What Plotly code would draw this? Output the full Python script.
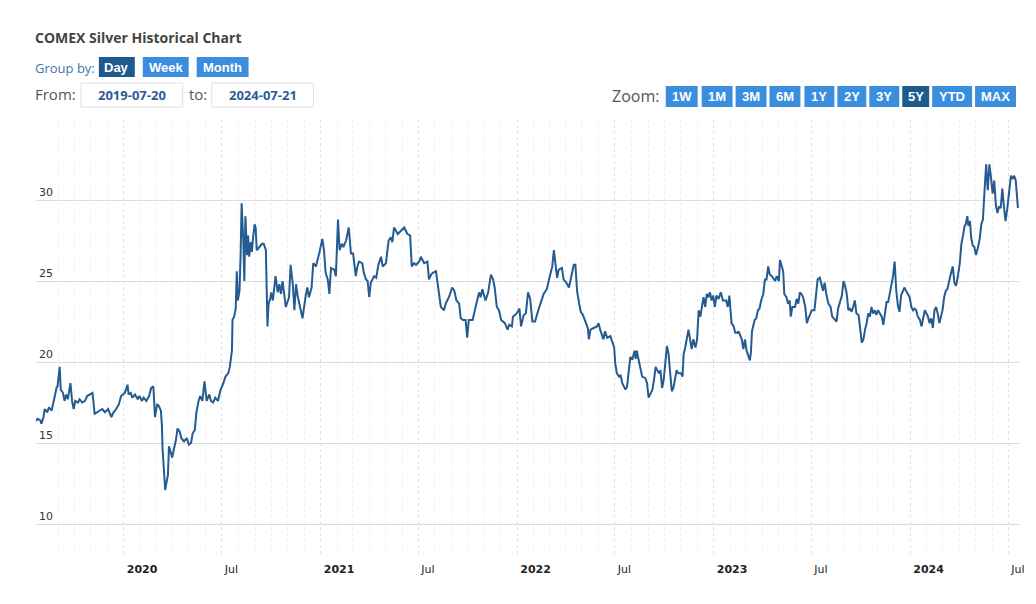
import plotly.graph_objects as go

# ---------------- data ----------------
dates_2019 = ["2019-07-22","2019-07-25","2019-07-30","2019-08-01","2019-08-05","2019-08-07","2019-08-12","2019-08-15",
              "2019-08-20","2019-08-23","2019-08-26","2019-08-29","2019-08-31","2019-09-04","2019-09-06","2019-09-10",
              "2019-09-13","2019-09-16","2019-09-19","2019-09-24","2019-09-27","2019-09-30","2019-10-03","2019-10-08",
              "2019-10-11","2019-10-16","2019-10-21","2019-10-25","2019-10-30","2019-11-04","2019-11-08","2019-11-13",
              "2019-11-18","2019-11-22","2019-11-27","2019-12-03","2019-12-09","2019-12-13","2019-12-18","2019-12-23",
              "2019-12-27","2019-12-31"]
prices_2019 = [16.35,16.5,16.4,16.2,16.6,17.1,16.9,17.2,
               17.0,17.4,17.9,18.4,18.5,19.7,18.3,18.1,
               17.6,18.0,17.7,18.7,17.6,17.1,17.6,17.5,
               17.7,17.5,17.6,17.9,18.0,18.1,16.8,16.9,
               17.0,17.1,16.9,17.1,16.6,16.9,17.1,17.4,
               17.9,18.0]

dates_2020 = ["2020-01-03","2020-01-08","2020-01-10","2020-01-14","2020-01-17","2020-01-22","2020-01-27","2020-01-30",
              "2020-02-04","2020-02-07","2020-02-12","2020-02-17","2020-02-21","2020-02-25","2020-02-28","2020-03-03",
              "2020-03-06","2020-03-10","2020-03-12","2020-03-13","2020-03-16","2020-03-18","2020-03-20","2020-03-23",
              "2020-03-25","2020-03-27","2020-03-31","2020-04-03","2020-04-07","2020-04-10","2020-04-14","2020-04-17",
              "2020-04-22","2020-04-27","2020-05-01","2020-05-05","2020-05-08","2020-05-12","2020-05-15","2020-05-19",
              "2020-05-22","2020-05-26","2020-05-30","2020-06-03","2020-06-08","2020-06-11","2020-06-15","2020-06-19",
              "2020-06-24","2020-06-29","2020-07-03","2020-07-08","2020-07-13","2020-07-16","2020-07-20","2020-07-21",
              "2020-07-24","2020-07-27","2020-07-29","2020-07-31","2020-08-03","2020-08-05","2020-08-07","2020-08-10",
              "2020-08-12","2020-08-14","2020-08-17","2020-08-19","2020-08-21","2020-08-24","2020-08-26","2020-08-28",
              "2020-08-31","2020-09-02","2020-09-04","2020-09-09","2020-09-14","2020-09-17","2020-09-21","2020-09-24",
              "2020-09-26","2020-09-29","2020-10-01","2020-10-04","2020-10-09","2020-10-13","2020-10-16","2020-10-19",
              "2020-10-22","2020-10-28","2020-11-03","2020-11-06","2020-11-10","2020-11-13","2020-11-16","2020-11-19",
              "2020-11-25","2020-11-28","2020-12-04","2020-12-07","2020-12-10","2020-12-15","2020-12-18","2020-12-23",
              "2020-12-29"]
prices_2020 = [18.1,18.6,18.0,18.1,17.8,18.0,17.7,17.9,
               17.6,17.8,17.6,17.9,18.4,18.5,16.6,17.4,
               17.3,17.0,16.0,14.7,13.0,12.1,12.5,13.0,
               14.8,14.5,14.1,14.6,15.2,15.9,15.7,15.3,
               15.1,15.3,14.9,15.0,15.6,15.8,16.9,17.6,
               17.9,17.6,18.8,17.6,18.0,17.6,17.5,17.8,
               17.6,18.3,18.6,19.1,19.3,19.7,20.7,22.6,
               22.8,23.3,25.6,23.8,24.4,26.5,29.8,27.5,
               25.0,29.0,26.6,27.8,26.5,27.4,26.8,27.6,
               28.5,28.3,26.9,27.1,27.3,27.3,26.9,22.2,
               23.6,23.9,24.3,23.8,25.3,24.3,24.8,24.2,
               25.0,23.4,24.0,26.0,24.8,23.2,24.8,24.1,
               23.2,22.7,24.1,24.6,24.0,24.6,26.1,25.9,
               26.7]

dates_2021 = ["2021-01-04","2021-01-07","2021-01-10","2021-01-14","2021-01-17","2021-01-20","2021-01-26","2021-01-29",
              "2021-02-02","2021-02-05","2021-02-09","2021-02-12","2021-02-17","2021-02-22","2021-02-26","2021-03-02",
              "2021-03-07","2021-03-10","2021-03-13","2021-03-19","2021-03-22","2021-03-26","2021-03-29","2021-04-01",
              "2021-04-04","2021-04-10","2021-04-14","2021-04-18","2021-04-23","2021-04-26","2021-05-02","2021-05-07",
              "2021-05-11","2021-05-14","2021-05-17","2021-05-24","2021-05-30","2021-06-05","2021-06-11","2021-06-16",
              "2021-06-19","2021-06-23","2021-06-27","2021-07-03","2021-07-06","2021-07-12","2021-07-18","2021-07-21",
              "2021-07-25","2021-07-28","2021-08-03","2021-08-06","2021-08-12","2021-08-18","2021-08-21","2021-08-27",
              "2021-09-02","2021-09-06","2021-09-10","2021-09-15","2021-09-18","2021-09-22","2021-09-27","2021-09-30",
              "2021-10-03","2021-10-10","2021-10-16","2021-10-22","2021-10-25","2021-10-28","2021-11-03","2021-11-08",
              "2021-11-13","2021-11-17","2021-11-20","2021-11-24","2021-11-28","2021-12-02","2021-12-09","2021-12-14",
              "2021-12-17","2021-12-22","2021-12-24","2021-12-31"]
prices_2021 = [27.6,26.9,25.5,25.1,24.2,25.8,25.7,25.3,
               28.8,26.9,27.3,27.1,27.5,28.3,26.7,26.7,
               25.3,25.9,26.2,26.1,25.5,25.1,25.0,24.0,
               24.9,25.3,25.2,26.0,26.5,25.9,26.1,27.5,
               27.7,27.4,28.3,27.9,28.1,28.3,27.9,27.8,
               25.9,26.1,26.0,26.2,26.5,26.1,26.2,25.1,
               25.4,25.5,25.6,24.9,23.4,23.2,23.6,24.0,
               24.6,24.4,23.8,23.6,22.7,22.6,22.6,21.5,
               22.6,22.6,23.4,24.3,24.0,24.5,23.8,24.3,
               25.4,25.1,24.6,23.4,23.2,22.6,22.4,22.0,
               22.3,22.2,22.8,23.0]

dates_2022 = ["2022-01-05","2022-01-08","2022-01-13","2022-01-17","2022-01-21","2022-01-25","2022-01-29","2022-02-03",
              "2022-02-09","2022-02-13","2022-02-16","2022-02-19","2022-02-25","2022-03-01","2022-03-04","2022-03-07",
              "2022-03-10","2022-03-13","2022-03-16","2022-03-19","2022-03-25","2022-03-28","2022-04-02","2022-04-07",
              "2022-04-13","2022-04-16","2022-04-19","2022-04-22","2022-04-26","2022-04-29","2022-05-03","2022-05-09",
              "2022-05-12","2022-05-14","2022-05-17","2022-05-23","2022-05-29","2022-06-01","2022-06-04","2022-06-10",
              "2022-06-13","2022-06-17","2022-06-23","2022-06-27","2022-06-30","2022-07-02","2022-07-05","2022-07-09",
              "2022-07-12","2022-07-15","2022-07-18","2022-07-21","2022-07-24","2022-07-30","2022-08-03","2022-08-07",
              "2022-08-09","2022-08-11","2022-08-14","2022-08-18","2022-08-21","2022-08-27","2022-08-30","2022-09-02",
              "2022-09-05","2022-09-09","2022-09-12","2022-09-15","2022-09-18","2022-09-21","2022-09-24","2022-09-27",
              "2022-09-30","2022-10-03","2022-10-06","2022-10-09","2022-10-12","2022-10-15","2022-10-18","2022-10-21",
              "2022-10-24","2022-10-27","2022-11-01","2022-11-04","2022-11-06","2022-11-09","2022-11-12","2022-11-15",
              "2022-11-18","2022-11-21","2022-11-24","2022-11-28","2022-12-01","2022-12-04","2022-12-07","2022-12-10",
              "2022-12-13","2022-12-16","2022-12-19","2022-12-22","2022-12-25","2022-12-28","2022-12-31"]
prices_2022 = [23.3,22.2,22.9,23.0,24.3,23.9,22.5,22.5,
               23.2,23.7,23.9,24.2,24.5,25.1,25.5,25.9,
               26.9,26.1,25.2,25.7,25.8,25.1,24.9,24.6,
               25.5,26.0,26.0,24.4,23.6,23.1,22.9,22.4,
               22.1,21.4,22.0,22.1,22.2,22.4,22.0,21.4,
               21.9,21.5,21.6,21.2,20.9,19.9,19.3,19.1,
               19.2,18.7,18.5,18.3,18.5,20.3,20.2,20.7,
               20.2,20.7,20.2,19.6,19.1,19.0,18.7,17.8,
               18.0,18.3,18.9,19.7,19.5,19.3,19.5,18.4,
               18.9,19.9,21.0,20.5,19.4,18.2,18.4,19.1,
               19.5,19.3,19.3,19.1,20.5,20.9,21.6,22.0,
               21.4,20.8,21.4,20.9,21.4,23.2,22.8,23.4,
               24.0,23.4,24.2,24.0,24.3,23.8,24.1]

dates_2023 = ["2023-01-03","2023-01-06","2023-01-10","2023-01-14","2023-01-18","2023-01-24","2023-01-27","2023-01-30",
              "2023-02-03","2023-02-07","2023-02-10","2023-02-14","2023-02-16","2023-02-19","2023-02-22","2023-02-25",
              "2023-02-28","2023-03-03","2023-03-06","2023-03-09","2023-03-11","2023-03-13","2023-03-18","2023-03-21",
              "2023-03-24","2023-03-27","2023-03-30","2023-04-03","2023-04-06","2023-04-09","2023-04-12","2023-04-15",
              "2023-04-19","2023-04-25","2023-04-28","2023-05-02","2023-05-04","2023-05-08","2023-05-10","2023-05-12",
              "2023-05-16","2023-05-19","2023-05-22","2023-05-24","2023-05-27","2023-06-01","2023-06-04","2023-06-07",
              "2023-06-10","2023-06-13","2023-06-16","2023-06-20","2023-06-23","2023-06-26","2023-06-29","2023-07-02",
              "2023-07-07","2023-07-13","2023-07-17","2023-07-20","2023-07-23","2023-07-26","2023-07-29","2023-08-02",
              "2023-08-06","2023-08-09","2023-08-12","2023-08-17","2023-08-20","2023-08-23","2023-08-27","2023-08-30",
              "2023-09-02","2023-09-05","2023-09-08","2023-09-11","2023-09-14","2023-09-17","2023-09-20","2023-09-23",
              "2023-09-27","2023-10-03","2023-10-06","2023-10-09","2023-10-12","2023-10-15","2023-10-18","2023-10-21",
              "2023-10-24","2023-10-27","2023-10-30","2023-11-02","2023-11-06","2023-11-09","2023-11-12","2023-11-15",
              "2023-11-18","2023-11-21","2023-11-24","2023-11-28","2023-11-30","2023-12-03","2023-12-06","2023-12-09",
              "2023-12-12","2023-12-15","2023-12-18","2023-12-21","2023-12-24","2023-12-28","2023-12-31"]
prices_2023 = [23.4,24.1,23.9,24.3,23.8,23.8,23.4,24.1,
               22.4,22.2,21.8,21.8,21.9,21.6,21.4,20.8,
               21.4,20.7,20.4,20.1,20.6,21.9,22.6,22.7,
               23.2,23.3,23.8,24.2,25.1,25.1,25.9,25.4,
               25.3,25.0,25.3,25.0,26.3,25.9,25.6,24.2,
               24.0,23.6,23.8,22.8,23.4,23.4,23.9,23.6,
               24.3,24.2,24.0,23.4,22.4,22.7,23.0,23.2,
               23.2,25.1,25.2,24.8,24.4,24.9,24.2,23.6,
               23.4,22.8,22.7,22.5,23.3,23.6,24.1,25.0,
               24.7,24.2,23.2,23.3,23.1,23.4,23.8,23.0,
               22.9,21.2,21.4,22.0,22.4,23.0,22.8,23.4,
               23.0,23.2,22.9,23.2,23.0,22.8,22.3,23.2,
               23.7,23.7,24.2,24.9,25.3,26.2,24.4,23.5,
               23.1,24.1,24.3,24.6,24.4,24.2,24.0]

dates_2024 = ["2024-01-03","2024-01-06","2024-01-09","2024-01-12","2024-01-15","2024-01-19","2024-01-22","2024-01-25",
              "2024-01-28","2024-01-31","2024-02-03","2024-02-06","2024-02-09","2024-02-12","2024-02-15","2024-02-18",
              "2024-02-21","2024-02-24","2024-02-27","2024-03-01","2024-03-04","2024-03-07","2024-03-10","2024-03-13",
              "2024-03-16","2024-03-20","2024-03-23","2024-03-26","2024-03-29","2024-04-02","2024-04-05","2024-04-08",
              "2024-04-11","2024-04-13","2024-04-16","2024-04-18","2024-04-21","2024-04-23","2024-04-26","2024-04-29",
              "2024-05-02","2024-05-06","2024-05-09","2024-05-12","2024-05-15","2024-05-18","2024-05-21","2024-05-24",
              "2024-05-27","2024-05-30","2024-06-02","2024-06-05","2024-06-08","2024-06-11","2024-06-14","2024-06-17",
              "2024-06-20","2024-06-23","2024-06-26","2024-06-29","2024-07-03","2024-07-06","2024-07-09","2024-07-12",
              "2024-07-15","2024-07-19"]
prices_2024 = [23.4,23.2,23.3,23.2,22.8,22.6,22.2,22.8,
               23.2,23.0,22.8,22.4,22.7,22.1,23.2,23.4,
               23.0,22.4,22.8,23.2,24.0,24.4,24.5,25.0,
               25.4,25.9,24.9,24.7,25.2,26.1,27.3,27.8,
               28.4,28.5,29.0,28.4,28.7,27.7,27.2,27.1,
               26.6,27.1,27.6,28.5,28.8,30.6,32.2,30.6,
               32.2,31.4,30.4,31.2,29.7,29.2,29.6,29.5,
               30.7,29.6,28.7,29.4,30.6,31.5,31.3,31.5,
               31.2,29.5]

dates = dates_2019 + dates_2020 + dates_2021 + dates_2022 + dates_2023 + dates_2024
prices = prices_2019 + prices_2020 + prices_2021 + prices_2022 + prices_2023 + prices_2024

x_range = ["2019-07-22", "2024-07-21"]
x_tick_vals = ["2020-01-01", "2020-07-01", "2021-01-01", "2021-07-01", "2022-01-01",
               "2022-07-01", "2023-01-01", "2023-07-01", "2024-01-01", "2024-07-01"]
x_tick_text = ["<b>2020</b>", "Jul", "<b>2021</b>", "Jul", "<b>2022</b>",
               "Jul", "<b>2023</b>", "Jul", "<b>2024</b>", "Jul"]
y_tick_vals = [10, 15, 20, 25, 30, 35]
y_tick_text = ["10", "15", "20", "25", "30", ""]

title_text = "COMEX Silver Historical Chart"
group_label = "Group by:"
group_buttons = ["Day", "Week", "Month"]
group_active = "Day"
from_label = "From:"
to_label = "to:"
from_date = "2019-07-20"
to_date = "2024-07-21"
zoom_label = "Zoom:"
zoom_buttons = ["1W", "1M", "3M", "6M", "1Y", "2Y", "3Y", "5Y", "YTD", "MAX"]
zoom_active = "5Y"

# ---------------- layout geometry (pixels) ----------------
W, H = 1036, 604
ML, MR, MT, MB = 36, 15, 119, 49
PW, PH = W - ML - MR, H - MT - MB

def fx(x):
    return (x - ML) / PW

def fy(y):
    return (H - MB - y) / PH

LINE_COLOR = "#245b91"
DARK_BTN = "#1f5a8f"
LIGHT_BTN = "#3b8ddd"
DATE_COLOR = "#2a5d94"

group_boxes = [(99, 135), (143, 189), (197, 249)]
group_y = (57, 77)
zoom_boxes = [(667, 699), (703, 734), (737, 768), (771, 802), (806, 836),
              (839, 868), (871, 901), (904, 931), (934, 974), (977, 1018)]
zoom_y = (86, 107)
input_boxes = [(81, 183), (212, 314)]
input_y = (83, 107)

fig = go.Figure()
fig.add_trace(go.Scatter(x=dates, y=prices, mode="lines",
                         line=dict(color=LINE_COLOR, width=2),
                         hoverinfo="x+y", showlegend=False))

shapes = []
annotations = []

def button(x0, x1, y0, y1, label, active, font_size=13):
    shapes.append(dict(type="rect", xref="paper", yref="paper",
                       x0=fx(x0), x1=fx(x1), y0=fy(y1), y1=fy(y0),
                       fillcolor=DARK_BTN if active else LIGHT_BTN,
                       line=dict(width=0), layer="above"))
    annotations.append(dict(xref="paper", yref="paper", x=fx((x0 + x1) / 2), y=fy((y0 + y1) / 2),
                            xanchor="center", yanchor="middle", showarrow=False,
                            text="<b>%s</b>" % label,
                            font=dict(family="Liberation Sans, Arial, sans-serif", size=font_size, color="white")))

for (x0, x1), lab in zip(group_boxes, group_buttons):
    button(x0, x1, group_y[0], group_y[1], lab, lab == group_active)
for (x0, x1), lab in zip(zoom_boxes, zoom_buttons):
    button(x0, x1, zoom_y[0], zoom_y[1], lab, lab == zoom_active)

for (x0, x1), val in zip(input_boxes, [from_date, to_date]):
    shapes.append(dict(type="rect", xref="paper", yref="paper",
                       x0=fx(x0), x1=fx(x1), y0=fy(input_y[1]), y1=fy(input_y[0]),
                       fillcolor="white", line=dict(color="#e2e2e2", width=1), layer="above"))
    annotations.append(dict(xref="paper", yref="paper", x=fx((x0 + x1) / 2), y=fy((input_y[0] + input_y[1]) / 2),
                            xanchor="center", yanchor="middle", showarrow=False,
                            text="<b>%s</b>" % val,
                            font=dict(family="Open Sans, sans-serif", size=13, color=DATE_COLOR)))

def label(x, y, text, size, color, family="Open Sans, sans-serif"):
    annotations.append(dict(xref="paper", yref="paper", x=fx(x), y=fy(y),
                            xanchor="left", yanchor="middle", showarrow=False,
                            text=text, borderpad=0, borderwidth=0,
                            font=dict(family=family, size=size, color=color)))

label(35, 37.5, "<b>%s</b>" % title_text, 14, "#444444")
label(35, 68, group_label, 13, "#3f76b0")
label(35, 94, from_label, 15, "#555555")
label(189, 94, to_label, 15, "#555555")
label(613, 96, zoom_label, 16, "#555555")

# white gap separating the tick band under the 10 line (Highcharts look)
shapes.append(dict(type="rect", xref="x domain", yref="y", x0=0, x1=1, y0=9.44, y1=9.93,
                   fillcolor="white", line=dict(width=0), layer="below"))

fig.update_layout(
    width=W, height=H,
    margin=dict(l=ML, r=MR, t=MT, b=MB, pad=0),
    paper_bgcolor="white", plot_bgcolor="white",
    shapes=shapes, annotations=annotations,
    font=dict(family="DejaVu Sans, Verdana, sans-serif", size=11, color="#333333"),
    xaxis=dict(type="date", range=x_range, tickmode="array", tickvals=x_tick_vals, ticktext=x_tick_text,
               showgrid=True, gridcolor="#e2e2e2", griddash="dot", gridwidth=1,
               ticks="", showline=False, zeroline=False,
               ticklabelposition="outside right", ticklabelshift=3, ticklabelstandoff=6,
               tickfont=dict(family="DejaVu Sans, Verdana, sans-serif", size=11, color="#222222"),
               minor=dict(dtick="M1", tick0="2019-08-01", showgrid=True, gridcolor="#efefef",
                          griddash="dot", gridwidth=1, ticks="")),
    yaxis=dict(range=[8.09, 35.0], tickmode="array", tickvals=y_tick_vals, ticktext=y_tick_text,
               showgrid=True, gridcolor="#dcdcdc", gridwidth=1, zeroline=False, showline=False,
               ticks="", ticklabelposition="inside top",
               tickfont=dict(family="DejaVu Sans, Verdana, sans-serif", size=11, color="#333333")),
    hovermode="x",
)

fig.write_html("out.html", config={"displayModeBar": False},
               post_script="document.body.style.margin='0px';")
